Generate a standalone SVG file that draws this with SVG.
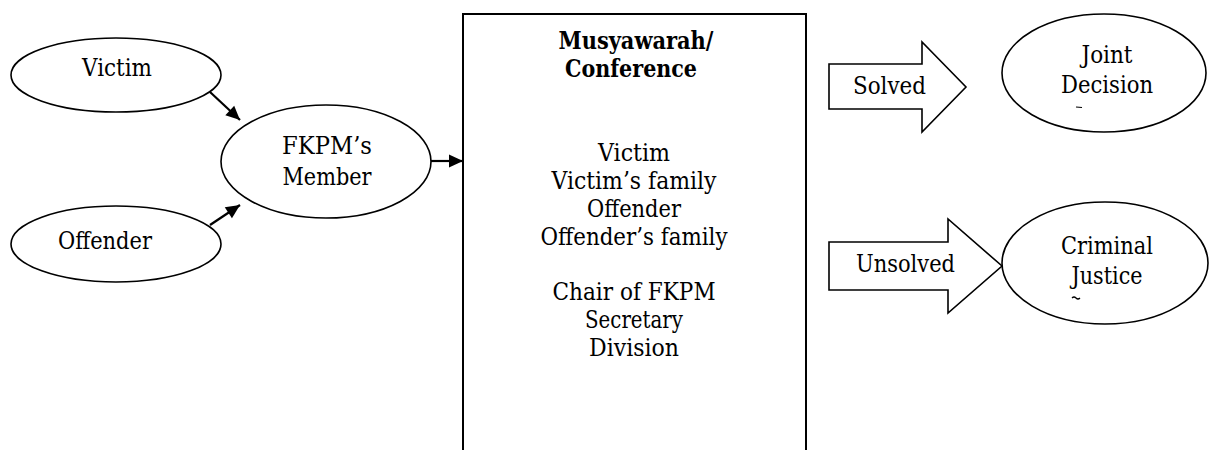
<svg xmlns="http://www.w3.org/2000/svg" width="1209" height="450" viewBox="0 0 1209 450">
  <style>
    .shape { fill: #fff; stroke: #000; stroke-width: 1.6; }
    .box { fill: #fff; stroke: #000; stroke-width: 2; }
    text { font-family: 'DejaVu Serif', 'Liberation Serif', serif; font-size: 23.5px; fill: #000; }
    .lbl { text-anchor: middle; }
    .title { font-weight: bold; }
    .conn { stroke: #000; stroke-width: 2.2; fill: none; marker-end: url(#head); }
    .frag { stroke: #000; stroke-width: 1.2; fill: none; }
  </style>
  <defs>
    <marker id="head" markerUnits="userSpaceOnUse" markerWidth="16" markerHeight="16" viewBox="0 0 16 16" refX="15" refY="8" orient="auto">
      <path d="M1,1.5 L15,8 L1,14.5 Z" fill="#000"/>
    </marker>
  </defs>
  <rect width="1209" height="450" fill="#fff"/>

  <!-- source parties -->
  <g id="victim">
    <ellipse class="shape" cx="116" cy="75" rx="105" ry="37"/>
    <text class="lbl" x="117" y="76" textLength="70" lengthAdjust="spacingAndGlyphs">Victim</text>
  </g>
  <g id="offender">
    <ellipse class="shape" cx="116" cy="244" rx="105" ry="38"/>
    <text class="lbl" x="105" y="249" textLength="94" lengthAdjust="spacingAndGlyphs">Offender</text>
  </g>
  <g id="fkpm-member">
    <ellipse class="shape" cx="326" cy="161.5" rx="105" ry="56.5"/>
    <text class="lbl" x="327" y="154" textLength="90" lengthAdjust="spacingAndGlyphs">FKPM’s</text>
    <text class="lbl" x="327" y="185" textLength="89" lengthAdjust="spacingAndGlyphs">Member</text>
  </g>

  <!-- conference box, open at the bottom of the page -->
  <g id="conference">
    <path class="box" d="M463,452 L463,14 L806,14 L806,452"/>
    <text class="lbl title" x="636" y="49" textLength="155" lengthAdjust="spacingAndGlyphs">Musyawarah/</text>
    <text class="lbl title" x="631" y="77" textLength="132" lengthAdjust="spacingAndGlyphs">Conference</text>
    <text class="lbl" x="634" y="161" textLength="72" lengthAdjust="spacingAndGlyphs">Victim</text>
    <text class="lbl" x="634" y="189" textLength="165" lengthAdjust="spacingAndGlyphs">Victim’s family</text>
    <text class="lbl" x="634" y="217" textLength="94" lengthAdjust="spacingAndGlyphs">Offender</text>
    <text class="lbl" x="634" y="245" textLength="187" lengthAdjust="spacingAndGlyphs">Offender’s family</text>
    <text class="lbl" x="634" y="300" textLength="163" lengthAdjust="spacingAndGlyphs">Chair of FKPM</text>
    <text class="lbl" x="634" y="328" textLength="98" lengthAdjust="spacingAndGlyphs">Secretary</text>
    <text class="lbl" x="634" y="356" textLength="90" lengthAdjust="spacingAndGlyphs">Division</text>
  </g>

  <!-- block arrows -->
  <g id="solved">
    <path class="shape" d="M829,64 L922,64 L922,42 L966,87 L922,132 L922,109 L829,109 Z"/>
    <text x="853" y="94" textLength="73" lengthAdjust="spacingAndGlyphs">Solved</text>
  </g>
  <g id="unsolved">
    <path class="shape" d="M829,242 L948,242 L948,219 L1002,266 L948,313 L948,290 L829,290 Z"/>
    <text x="856" y="272" textLength="99" lengthAdjust="spacingAndGlyphs">Unsolved</text>
  </g>

  <!-- outcomes -->
  <g id="joint-decision">
    <ellipse class="shape" cx="1104" cy="73" rx="102" ry="59"/>
    <text class="lbl" x="1107" y="63" textLength="51" lengthAdjust="spacingAndGlyphs">Joint</text>
    <text class="lbl" x="1107" y="93" textLength="92" lengthAdjust="spacingAndGlyphs">Decision</text>
    <path class="frag" d="M1076,107 L1082,107.5"/>
  </g>
  <g id="criminal-justice">
    <ellipse class="shape" cx="1105" cy="263" rx="103" ry="61"/>
    <text class="lbl" x="1107" y="254" textLength="92" lengthAdjust="spacingAndGlyphs">Criminal</text>
    <text class="lbl" x="1107" y="284" textLength="71" lengthAdjust="spacingAndGlyphs">Justice</text>
    <path class="frag" d="M1072,298 Q1074,296 1076,298 T1080,298"/>
  </g>

  <!-- connectors -->
  <g id="connectors">
    <line class="conn" x1="210" y1="92" x2="240" y2="120"/>
    <line class="conn" x1="210" y1="225" x2="240" y2="205"/>
    <line class="conn" x1="431" y1="161" x2="463" y2="161"/>
  </g>
</svg>
